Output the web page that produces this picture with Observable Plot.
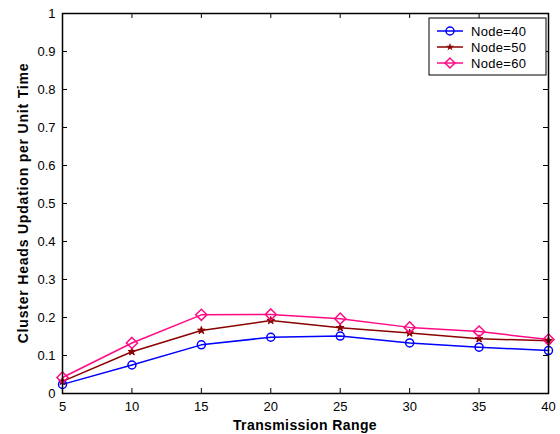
<!DOCTYPE html>
<html><head><meta charset="utf-8">
<script src="https://cdn.jsdelivr.net/npm/d3@7"></script>
<script src="https://cdn.jsdelivr.net/npm/@observablehq/plot@0.6"></script>
<style>body{margin:0;background:#fff}svg{font-family:"Liberation Sans",Arial,sans-serif}</style>
</head><body><div id="chart"></div>
<script>
const ranges = [5, 10, 15, 20, 25, 30, 35, 40];
const node40 = [0.024, 0.075, 0.128, 0.148, 0.151, 0.133, 0.122, 0.113];
const node50 = [0.032, 0.110, 0.166, 0.192, 0.173, 0.159, 0.144, 0.139];
const node60 = [0.042, 0.133, 0.207, 0.208, 0.197, 0.174, 0.163, 0.142];
const seriesNames = ["Node=40", "Node=50", "Node=60"];
const colors = ["#0000ff", "#8b0000", "#ff0a85"];
const xTicks = [5, 10, 15, 20, 25, 30, 35, 40];
const yTicks = [0, 0.1, 0.2, 0.3, 0.4, 0.5, 0.6, 0.7, 0.8, 0.9, 1];

const W = 560, H = 434, mL = 62, mR = 12, mT = 13, mB = 41;
const pw = W - mL - mR, ph = H - mT - mB;
const allSeries = [node40, node50, node60];
const data = allSeries.flatMap((vals, s) => vals.map((v, i) => ({x: ranges[i], y: v, s: seriesNames[s]})));
const byS = n => data.filter(d => d.s === n);

const plot = Plot.plot({
  width: W, height: H, marginLeft: mL, marginRight: mR, marginTop: mT, marginBottom: mB,
  style: {fontFamily: '"Liberation Sans", Arial, sans-serif', fontSize: "13px", background: "#fff", overflow: "visible"},
  x: {domain: [5, 40]},
  y: {domain: [0, 1]},
  marks: [
    Plot.axisX(xTicks, {tickSize: 0, tickPadding: 8, fontSize: 13, label: null, fill: "#000"}),
    Plot.axisY(yTicks, {tickSize: 0, tickPadding: 7, fontSize: 13, label: null, fill: "#000", tickFormat: d => String(d)}),
    Plot.tickX(xTicks, {x: d => d, insetTop: ph - 5, stroke: "#000", strokeWidth: 1}),
    Plot.tickX(xTicks, {x: d => d, insetBottom: ph - 5, stroke: "#000", strokeWidth: 1}),
    Plot.tickY(yTicks, {y: d => d, insetRight: pw - 5, stroke: "#000", strokeWidth: 1}),
    Plot.tickY(yTicks, {y: d => d, insetLeft: pw - 5, stroke: "#000", strokeWidth: 1}),
    Plot.line(byS(seriesNames[0]), {x: "x", y: "y", stroke: colors[0], strokeWidth: 1.5}),
    Plot.line(byS(seriesNames[1]), {x: "x", y: "y", stroke: colors[1], strokeWidth: 1.5}),
    Plot.line(byS(seriesNames[2]), {x: "x", y: "y", stroke: colors[2], strokeWidth: 1.5}),
    Plot.dot(byS(seriesNames[0]), {x: "x", y: "y", stroke: colors[0], r: 4, strokeWidth: 1.5, fill: "none"}),
    Plot.dot(byS(seriesNames[1]), {x: "x", y: "y", fill: colors[1], stroke: colors[1], symbol: "star", r: 2.4, strokeWidth: 1}),
    Plot.dot(byS(seriesNames[2]), {x: "x", y: "y", stroke: colors[2], symbol: "diamond2", r: 5, strokeWidth: 1.5, fill: "none"}),
    Plot.frame({stroke: "#000", strokeWidth: 1.5})
  ]
});
document.getElementById("chart").appendChild(plot);

const svg = d3.select(plot);
svg.append("text").attr("x", mL + pw / 2).attr("y", H - 4).attr("text-anchor", "middle")
  .attr("font-weight", "bold").attr("font-size", 14).attr("letter-spacing", 0.4).text("Transmission Range");
svg.append("text").attr("transform", `translate(28,${mT + ph / 2}) rotate(-90)`).attr("text-anchor", "middle")
  .attr("font-weight", "bold").attr("font-size", 14).attr("letter-spacing", 0.8).text("Cluster Heads Updation per Unit Time");

// legend
const lg = svg.append("g").attr("transform", "translate(429,18)");
lg.append("rect").attr("width", 117).attr("height", 57).attr("fill", "#fff").attr("stroke", "#000").attr("stroke-width", 1);
seriesNames.forEach((n, i) => {
  const y = 13 + i * 16;
  lg.append("line").attr("x1", 8).attr("x2", 34).attr("y1", y).attr("y2", y).attr("stroke", colors[i]).attr("stroke-width", 1.5);
  if (i === 0) lg.append("circle").attr("cx", 21).attr("cy", y).attr("r", 4).attr("fill", "none").attr("stroke", colors[i]).attr("stroke-width", 1.5);
  if (i === 1) lg.append("path").attr("transform", `translate(21,${y})`).attr("d", d3.symbol(d3.symbolStar, 20)()).attr("fill", colors[i]);
  if (i === 2) lg.append("path").attr("transform", `translate(21,${y}) rotate(45)`).attr("d", "M-3.5,-3.5h7v7h-7z").attr("fill", "none").attr("stroke", colors[i]).attr("stroke-width", 1.5);
  lg.append("text").attr("x", 42).attr("y", y + 4.5).attr("text-anchor", "start").attr("font-size", 13).attr("letter-spacing", 0.3).text(n);
});
</script></body></html>
